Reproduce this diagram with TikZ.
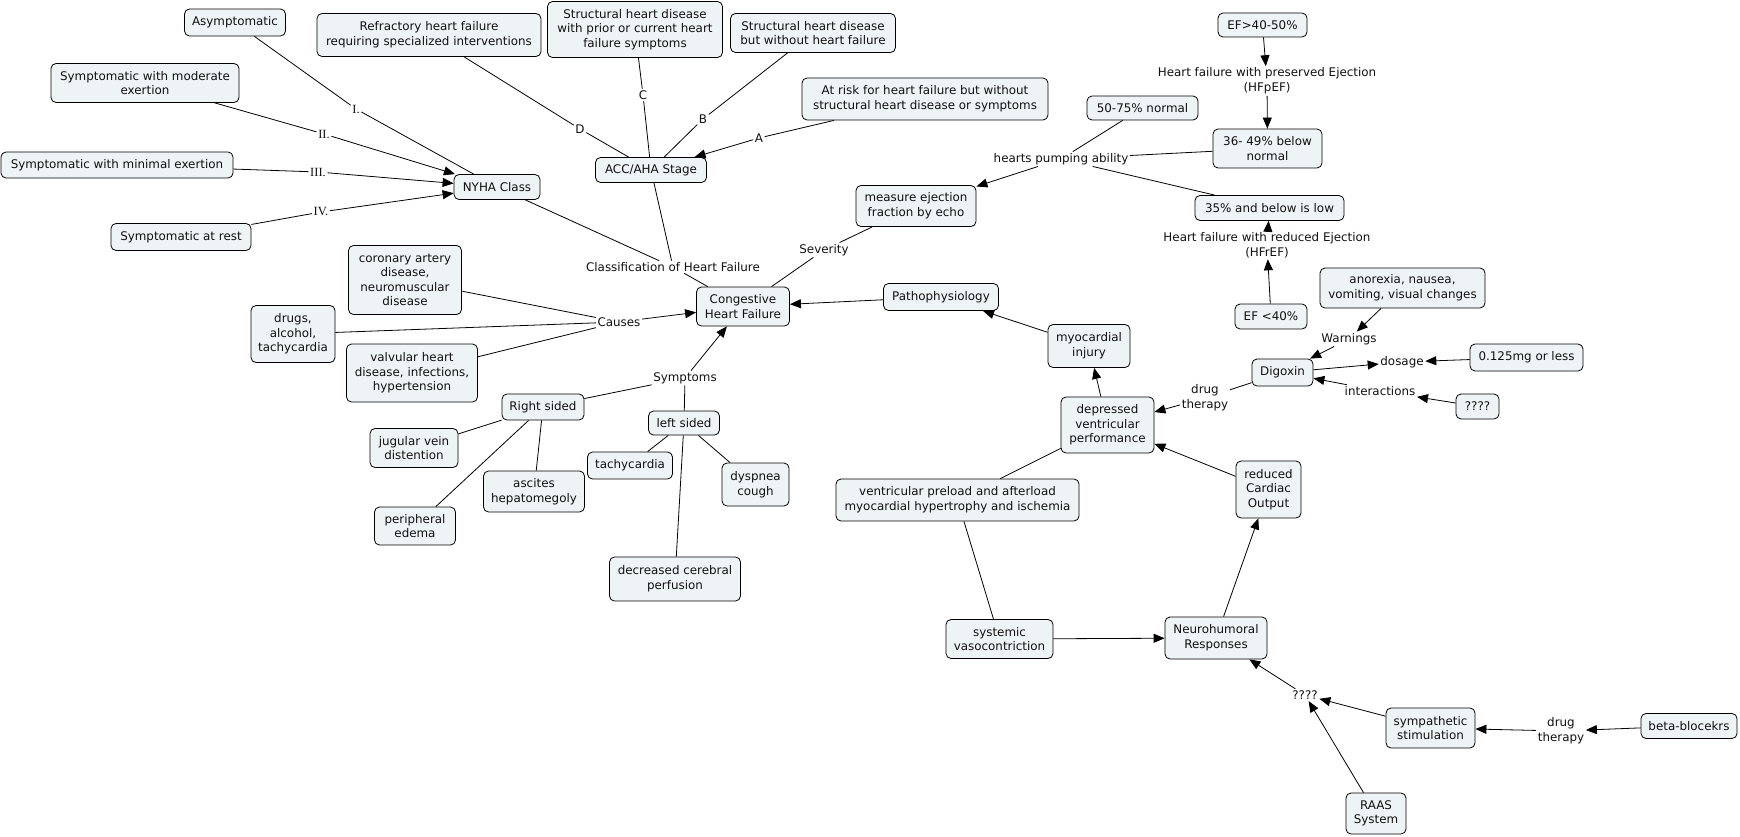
\documentclass[tikz,border=0pt]{standalone}
\usepackage{fontspec}
\setmainfont{DejaVu Sans}
\newfontfamily\romfont{Liberation Serif}
\usetikzlibrary{arrows.meta}
\definecolor{cfill}{HTML}{EEF3F5}
\definecolor{txt}{HTML}{111111}
\begin{document}
\begin{tikzpicture}[x=1pt,y=-1pt,
  font=\fontsize{11.9}{14.6}\selectfont,
  cn/.style={draw=black, line width=0.8pt, rounded corners=5pt, fill=cfill, align=center, inner sep=0pt, text=txt},
  sz/.style 2 args={minimum width=#1pt, minimum height=#2pt},
  lb/.style={inner sep=1.5pt, align=center, text=txt},
  ln/.style={draw=black, line width=0.8pt},
  ar/.style={draw=black, line width=0.8pt, -{Triangle[length=11pt,width=9pt]}}]
\useasboundingbox (0,0) rectangle (1740,837);
% concepts
\node[cn,sz={101}{27}] (asym) at (235,22.5) {Asymptomatic};
\node[cn,sz={224}{43}] (refr) at (429,35) {Refractory heart failure\\requiring specialized interventions};
\node[cn,sz={175}{56}] (prior) at (635,29.5) {Structural heart disease\\with prior or current heart\\failure symptoms};
\node[cn,sz={165}{39}] (without) at (813,33) {Structural heart disease\\but without heart failure};
\node[cn,sz={246}{42}] (atrisk) at (925,99) {At risk for heart failure but without\\structural heart disease or symptoms};
\node[cn,sz={188}{39}] (mod) at (145,83) {Symptomatic with moderate\\exertion};
\node[cn,sz={232}{26}] (nmin) at (117,165) {Symptomatic with minimal exertion};
\node[cn,sz={86}{25}] (nyha) at (497,187) {NYHA Class};
\node[cn,sz={140}{27}] (rest) at (181,237) {Symptomatic at rest};
\node[cn,sz={111}{25}] (acc) at (651,170) {ACC/AHA Stage};
\node[cn,sz={120}{41}] (echo) at (916,206) {measure ejection\\fraction by echo};
\node[cn,sz={89}{24}] (ef4050) at (1262.5,25) {EF>40-50\%};
\node[cn,sz={111}{24}] (n5075) at (1142.5,108) {50-75\% normal};
\node[cn,sz={109}{39}] (n3649) at (1267.5,148.5) {36- 49\% below\\normal};
\node[cn,sz={149}{25}] (n35) at (1269.5,208) {35\% and below is low};
\node[cn,sz={72}{25}] (ef40) at (1271,316.5) {EF <40\%};
\node[cn,sz={113}{69}] (coronary) at (405,280) {coronary artery\\disease,\\neuromuscular\\disease};
\node[cn,sz={84}{57}] (drugs) at (293,334) {drugs,\\alcohol,\\tachycardia};
\node[cn,sz={131}{58}] (valv) at (412,373) {valvular heart\\disease, infections,\\hypertension};
\node[cn,sz={93}{39}] (chf) at (743,306.5) {Congestive\\Heart Failure};
\node[cn,sz={115}{27}] (patho) at (941,297) {Pathophysiology};
\node[cn,sz={82}{43}] (myo) at (1089,346) {myocardial\\injury};
\node[cn,sz={165}{40}] (anorexia) at (1402.5,288) {anorexia, nausea,\\vomiting, visual changes};
\node[cn,sz={61}{27}] (digoxin) at (1282.5,372.5) {Digoxin};
\node[cn,sz={113}{27}] (dose) at (1526.5,357.5) {0.125mg or less};
\node[cn,sz={43}{25}] (qq1) at (1477.5,406.5) {????};
\node[cn,sz={82}{26}] (right) at (543,407) {Right sided};
\node[cn,sz={71}{24}] (left) at (684,423) {left sided};
\node[cn,sz={88}{39}] (jug) at (414,448) {jugular vein\\distention};
\node[cn,sz={101}{41}] (asc) at (534,491.5) {ascites\\hepatomegoly};
\node[cn,sz={81}{38}] (periph) at (415,526) {peripheral\\edema};
\node[cn,sz={85}{27}] (tachy) at (630,465.5) {tachycardia};
\node[cn,sz={67}{43}] (dysp) at (755.5,484.5) {dyspnea\\cough};
\node[cn,sz={131}{44}] (decr) at (675,579) {decreased cerebral\\perfusion};
\node[cn,sz={93}{56}] (depr) at (1107.5,425) {depressed\\ventricular\\performance};
\node[cn,sz={243}{42}] (vent) at (957.5,500) {ventricular preload and afterload\\myocardial hypertrophy and ischemia};
\node[cn,sz={65}{57}] (redco) at (1268.5,489.5) {reduced\\Cardiac\\Output};
\node[cn,sz={107}{39}] (sysv) at (999.5,639) {systemic\\vasocontriction};
\node[cn,sz={102}{42}] (neuro) at (1216,638) {Neurohumoral\\Responses};
\node[cn,sz={89}{40}] (symp) at (1430.5,728) {sympathetic\\stimulation};
\node[cn,sz={96}{25}] (beta) at (1689,726) {beta-blocekrs};
\node[cn,sz={60}{41}] (raas) at (1376,813.5) {RAAS\\System};
% labels
\node[lb,font=\romfont\fontsize{12.5}{14}\selectfont] (lI) at (356,109) {I.};
\node[lb,font=\romfont\fontsize{12.5}{14}\selectfont] (lII) at (324,134) {II.};
\node[lb,font=\romfont\fontsize{12.5}{14}\selectfont] (lIII) at (318,172) {III.};
\node[lb,font=\romfont\fontsize{12.5}{14}\selectfont] (lIV) at (321,212) {IV.};
\node[lb] (lD) at (580,129) {D};
\node[lb] (lC) at (643,95) {C};
\node[lb] (lB) at (703,119) {B};
\node[lb] (lA) at (759,138) {A};
\node[lb] (lclass) at (673,267) {Classification of Heart Failure};
\node[lb] (lsev) at (824,250) {Severity};
\node[lb] (lpump) at (1061,159) {hearts pumping ability};
\node[lb] (lhfp) at (1267,81) {Heart failure with preserved Ejection\\(HFpEF)};
\node[lb] (lhfr) at (1267,245) {Heart failure with reduced Ejection\\(HFrEF)};
\node[lb] (lcauses) at (619,322) {Causes};
\node[lb] (lsympt) at (685,378) {Symptoms};
\node[lb] (lwarn) at (1349,339) {Warnings};
\node[lb] (ldosage) at (1402,362) {dosage};
\node[lb] (linter) at (1380,391) {interactions};
\node[lb] (ldrug1) at (1205,398) {drug\\therapy};
\node[lb] (lqq2) at (1305,695) {????};
\node[lb] (ldrug2) at (1561,731) {drug\\therapy};
% connectors
\draw[ln] (asym) -- (lI); \draw[ln] (lI) -- (nyha);
\draw[ln] (mod) -- (lII); \draw[ar] (lII) -- (nyha);
\draw[ln] (nmin) -- (lIII); \draw[ar] (lIII) -- (nyha);
\draw[ln] (rest) -- (lIV); \draw[ar] (lIV) -- (nyha);
\draw[ln] (refr) -- (lD); \draw[ln] (lD) -- (acc);
\draw[ln] (prior) -- (lC); \draw[ln] (lC) -- (acc);
\draw[ln] (without) -- (lB); \draw[ln] (lB) -- (acc);
\draw[ln] (atrisk) -- (lA); \draw[ar] (lA) -- (acc);
\draw[ln] (nyha) -- (lclass); \draw[ln] (acc) -- (lclass); \draw[ln] (lclass) -- (chf);
\draw[ln] (echo) -- (lsev); \draw[ln] (lsev) -- (chf);
\draw[ln] (n5075) -- (lpump); \draw[ln] (n3649) -- (lpump); \draw[ln] (n35) -- (lpump);
\draw[ar] (lpump) -- (echo);
\draw[ar] (ef4050) -- (lhfp); \draw[ar] (lhfp) -- (n3649);
\draw[ar] (ef40) -- (lhfr); \draw[ar] (lhfr) -- (n35);
\draw[ln] (coronary) -- (lcauses); \draw[ln] (drugs) -- (lcauses); \draw[ln] (valv) -- (lcauses);
\draw[ar] (lcauses) -- (chf);
\draw[ln] (right) -- (lsympt); \draw[ln] (left) -- (lsympt); \draw[ar] (lsympt) -- (chf);
\draw[ln] (right) -- (jug); \draw[ln] (right) -- (periph); \draw[ln] (right) -- (asc);
\draw[ln] (left) -- (tachy); \draw[ln] (left) -- (dysp); \draw[ln] (left) -- (decr);
\draw[ar] (patho) -- (chf);
\draw[ar] (myo) -- (patho);
\draw[ar] (depr) -- (myo);
\draw[ln] (vent) -- (depr);
\draw[ln] (vent) -- (sysv);
\draw[ar] (sysv) -- (neuro);
\draw[ar] (neuro) -- (redco);
\draw[ar] (redco) -- (depr);
\draw[ln] (digoxin) -- (ldrug1); \draw[ar] (ldrug1) -- (depr);
\draw[ar] (anorexia) -- (lwarn); \draw[ar] (lwarn) -- (digoxin);
\draw[ar] (digoxin) -- (ldosage); \draw[ar] (dose) -- (ldosage);
\draw[ar] (linter) -- (digoxin); \draw[ar] (qq1) -- (linter);
\draw[ar] (lqq2) -- (neuro); \draw[ar] (symp) -- (lqq2); \draw[ar] (raas) -- (lqq2);
\draw[ar] (beta) -- (ldrug2); \draw[ar] (ldrug2) -- (symp);
\end{tikzpicture}
\end{document}
